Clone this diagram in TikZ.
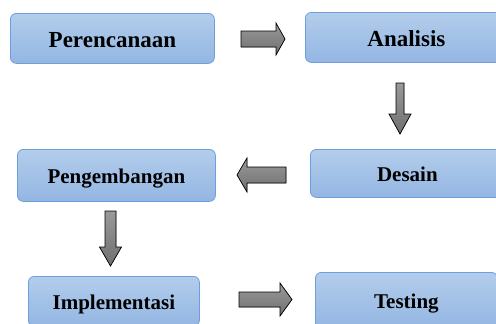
\documentclass[tikz,border=0pt]{standalone}
\usepackage{fontspec}
\setmainfont{Liberation Serif}
\definecolor{biruAtas}{HTML}{B3CDEC}
\definecolor{biruBawah}{HTML}{93B6E2}
\definecolor{biruGaris}{HTML}{6E9FDA}
\definecolor{abuAtas}{HTML}{999999}
\definecolor{abuBawah}{HTML}{707070}
\tikzset{
  tahap/.style={draw=biruGaris, line width=0.8pt, rounded corners=6pt,
    top color=biruAtas, bottom color=biruBawah, inner sep=0pt, anchor=north west,
    text height=18pt, text depth=2pt,
    font=\bfseries\fontsize{21}{24}\selectfont},
  besar/.style={font=\bfseries\fontsize{23}{26}\selectfont, text height=19pt, text depth=0pt},
  panah/.style={draw=black, line width=0.7pt, top color=abuAtas, bottom color=abuBawah}
}
\begin{document}
\begin{tikzpicture}[x=1pt,y=-1pt]
    \useasboundingbox (0,0) rectangle (496,324);

    \node[tahap, besar, minimum width=204pt, minimum height=50pt] (perencanaan) at (10,13) {Perencanaan};
    \node[tahap, besar, minimum width=202pt, minimum height=50pt] (analisis) at (305,12) {Analisis};
    \node[tahap, minimum width=198pt, minimum height=52pt] (pengembangan) at (17,149) {Pengembangan};
    \node[tahap, minimum width=194pt, minimum height=48pt] (desain) at (310,149) {Desain};
    \node[tahap, minimum width=171pt, minimum height=50pt] (implementasi) at (28,276) {Implementasi};
    \node[tahap, minimum width=182pt, minimum height=56pt] (testing) at (315,272) {Testing};

    % panah blok
    \filldraw[panah] (241,31) -- (276,31) -- (276,23) -- (285,39) -- (276,55) -- (276,47) -- (241,47) -- cycle;
    \filldraw[panah] (396,83) -- (404,83) -- (404,114) -- (411,114) -- (400,134) -- (389,114) -- (396,114) -- cycle;
    \filldraw[panah] (286,167) -- (247,167) -- (247,158) -- (237,175) -- (247,192) -- (247,183) -- (286,183) -- cycle;
    \filldraw[panah] (105,211) -- (116,211) -- (116,247) -- (121.5,247) -- (110.5,266) -- (99.5,247) -- (105,247) -- cycle;
    \filldraw[panah] (239,292) -- (280,292) -- (280,283) -- (292,299.5) -- (280,316) -- (280,307) -- (239,307) -- cycle;
\end{tikzpicture}
\end{document}
